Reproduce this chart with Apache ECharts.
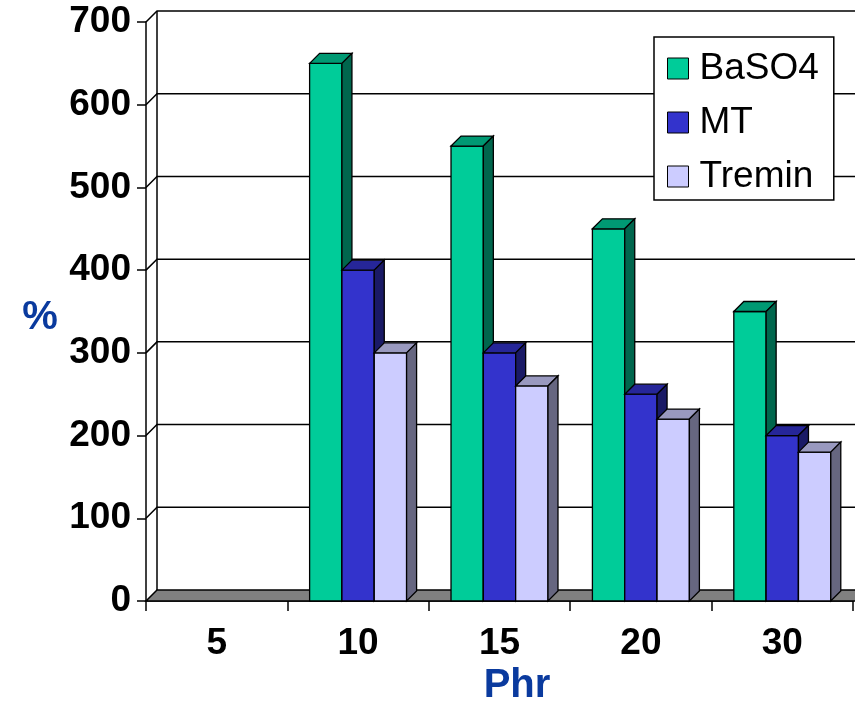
<!DOCTYPE html>
<html>
<head>
<meta charset="utf-8">
<script src="https://cdn.jsdelivr.net/npm/echarts@6/dist/echarts.min.js"></script>
<style>
  html, body { margin: 0; padding: 0; background: #fff; }
  #chart { width: 855px; height: 704px; }
</style>
</head>
<body>
<div id="chart"></div>
<script>
// Filler loading (Phr) and the measured property (%) for three fillers
const categories = ['5', '10', '15', '20', '30'];
const seriesNames = ['BaSO4', 'MT', 'Tremin'];
const baso4 = [null, 650, 550, 450, 350];
const mt = [null, 400, 300, 250, 200];
const tremin = [null, 300, 260, 220, 180];
const yTicks = [0, 100, 200, 300, 400, 500, 600, 700];

const FONT = '"Liberation Sans", Arial, Helvetica, sans-serif';
const TITLE_BLUE = '#0A3A9E';

// depth offsets of the 3D look
const WALL_DX = 11, WALL_DY = -11;
const BAR_DX = 10, BAR_DY = -10;
const BAR_RATIO = 0.2286; // single bar width as a share of the category band

const palettes = [
  { front: '#00CC99', top: '#009973', side: '#00664D' },
  { front: '#3333CC', top: '#262699', side: '#1A1A66' },
  { front: '#CCCCFF', top: '#9999BF', side: '#666680' }
];

const chart = echarts.init(document.getElementById('chart'), null, { renderer: 'canvas' });

function wallItem(params, api) {
  const cs = params.coordSys;
  const x0 = cs.x, x1 = cs.x + cs.width + 60;
  const v = api.value(1);
  const y = api.coord([0, v])[1];
  const line = { stroke: '#000', lineWidth: 1.5, fill: null };
  const children = [];
  if (v === 0) {
    const yTop = api.coord([0, yTicks[yTicks.length - 1]])[1];
    children.push({
      type: 'polygon',
      shape: { points: [[x0, y], [x0 + WALL_DX, y + WALL_DY], [x1 + WALL_DX, y + WALL_DY], [x1, y]] },
      style: { fill: '#808080', stroke: '#000', lineWidth: 1.5 }
    });
    children.push({
      type: 'line',
      shape: { x1: x0 + WALL_DX, y1: y + WALL_DY, x2: x0 + WALL_DX, y2: yTop + WALL_DY },
      style: line
    });
  } else {
    children.push({
      type: 'polyline',
      shape: { points: [[x0, y], [x0 + WALL_DX, y + WALL_DY], [x1 + WALL_DX, y + WALL_DY]] },
      style: line
    });
  }
  return { type: 'group', children: children };
}

function barRenderer(idx) {
  const pal = palettes[idx];
  return function (params, api) {
    const cat = api.value(0);
    const val = api.value(1);
    const top = api.coord([cat, val]);
    const base = api.coord([cat, 0]);
    const band = api.size([1, 0])[0];
    const w = band * BAR_RATIO;
    const x = top[0] - 1.5 * w + idx * w;
    const yT = top[1], yB = base[1];
    const edge = { stroke: '#000', lineWidth: 1.3 };
    return {
      type: 'group',
      children: [
        {
          type: 'rect',
          shape: { x: x, y: yT, width: w, height: yB - yT },
          style: Object.assign({ fill: pal.front }, edge)
        },
        {
          type: 'polygon',
          shape: { points: [[x, yT], [x + BAR_DX, yT + BAR_DY], [x + w + BAR_DX, yT + BAR_DY], [x + w, yT]] },
          style: Object.assign({ fill: pal.top }, edge)
        },
        {
          type: 'polygon',
          shape: { points: [[x + w, yT], [x + w + BAR_DX, yT + BAR_DY], [x + w + BAR_DX, yB + BAR_DY], [x + w, yB]] },
          style: Object.assign({ fill: pal.side }, edge)
        }
      ]
    };
  };
}

function toData(values) {
  return values.map(function (v, i) { return v == null ? null : [i, v]; }).filter(Boolean);
}

const barSeries = [baso4, mt, tremin].map(function (values, idx) {
  return {
    type: 'custom',
    name: seriesNames[idx],
    renderItem: barRenderer(idx),
    encode: { x: 0, y: 1 },
    itemStyle: { color: palettes[idx].front },
    data: toData(values),
    z: 3 + idx
  };
});

const option = {
  animation: false,
  backgroundColor: '#fff',
  grid: { left: 146, right: 2, top: 22, bottom: 103 },
  xAxis: {
    type: 'category',
    data: categories,
    axisLine: { show: true, lineStyle: { color: '#000', width: 1.5 } },
    axisTick: { show: true, length: 10, interval: 0, lineStyle: { color: '#000', width: 1.5 } },
    axisLabel: { margin: 24, color: '#000', fontSize: 37, fontWeight: 'bold', fontFamily: FONT, interval: 0 },
    splitLine: { show: false }
  },
  yAxis: {
    type: 'value',
    min: 0,
    max: 700,
    interval: 100,
    axisLine: { show: true, lineStyle: { color: '#000', width: 1.5 } },
    axisTick: { show: true, length: 9, lineStyle: { color: '#000', width: 1.5 } },
    axisLabel: { margin: 15, color: '#000', fontSize: 37, fontWeight: 'bold', fontFamily: FONT },
    splitLine: { show: false }
  },
  legend: {
    orient: 'vertical',
    left: 654,
    top: 37,
    data: seriesNames,
    icon: 'rect',
    itemWidth: 21,
    itemHeight: 21,
    itemGap: 17,
    padding: [13, 15, 5, 13],
    backgroundColor: '#fff',
    borderColor: '#000',
    borderWidth: 1.5,
    itemStyle: { borderColor: '#000', borderWidth: 1 },
    textStyle: { color: '#000', fontSize: 37, fontFamily: FONT, lineHeight: 35, padding: [0, 0, 0, 6] },
    z: 20
  },
  graphic: [
    {
      type: 'text', z: 20,
      style: { text: '%', fill: TITLE_BLUE, font: 'bold 40px ' + FONT, textAlign: 'center', textVerticalAlign: 'middle' },
      x: 40, y: 318
    },
    {
      type: 'text', z: 20,
      style: { text: 'Phr', fill: TITLE_BLUE, font: 'bold 40px ' + FONT, textAlign: 'center', textVerticalAlign: 'middle' },
      x: 517, y: 686
    }
  ],
  series: [
    {
      type: 'custom',
      name: 'walls',
      renderItem: wallItem,
      encode: { x: 0, y: 1 },
      data: yTicks.map(function (v) { return [0, v]; }),
      silent: true,
      z: 1
    }
  ].concat(barSeries)
};

chart.setOption(option);
</script>
</body>
</html>
